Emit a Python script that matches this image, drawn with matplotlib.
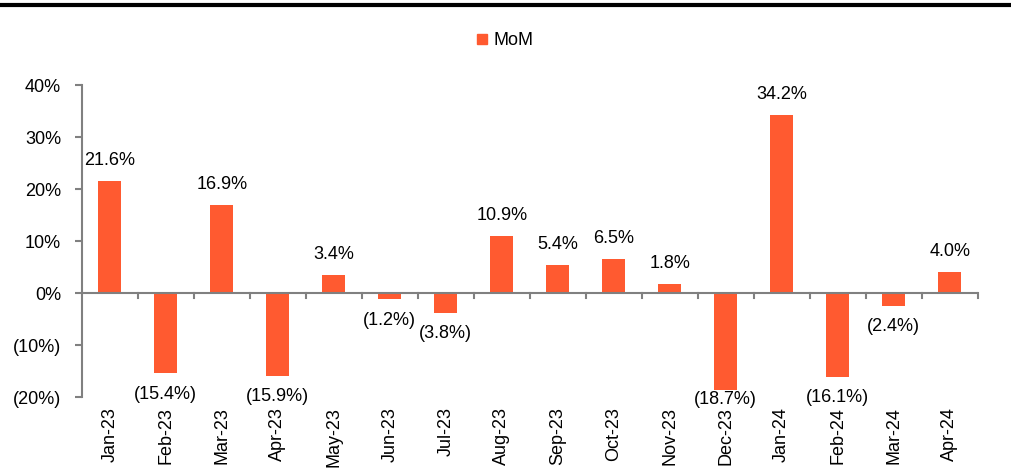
import matplotlib.pyplot as plt
from matplotlib.lines import Line2D
from matplotlib.ticker import FuncFormatter

plt.rcParams['font.family'] = ['Liberation Sans', 'DejaVu Sans']

# data
months = ['Jan-23', 'Feb-23', 'Mar-23', 'Apr-23', 'May-23', 'Jun-23', 'Jul-23', 'Aug-23',
          'Sep-23', 'Oct-23', 'Nov-23', 'Dec-23', 'Jan-24', 'Feb-24', 'Mar-24', 'Apr-24']
mom = [21.6, -15.4, 16.9, -15.9, 3.4, -1.2, -3.8, 10.9,
       5.4, 6.5, 1.8, -18.7, 34.2, -16.1, -2.4, 4.0]

bar_color = '#FF5A30'
axis_color = '#808080'
fs = 13


def pct_fmt(v, pos=None, dec=0):
    s = f"{abs(v):.{dec}f}%"
    return f"({s})" if v < 0 else s


fig = plt.figure(figsize=(10.11, 4.70), dpi=100)
ax = fig.add_axes([0.081, 0.155, 0.886, 0.664])

x = list(range(len(months)))
ax.bar(x, mom, width=0.41, color=bar_color, zorder=2)

for xi, v in zip(x, mom):
    if v >= 0:
        ax.annotate(pct_fmt(v, dec=1), (xi, v), xytext=(0, 11.5), textcoords='offset points',
                    ha='center', va='baseline', fontsize=fs)
    else:
        # below the bar, but kept inside the plot area like Excel does
        ax.text(xi, max(v - 2.4, -18.8), pct_fmt(v, dec=1), ha='center', va='top', fontsize=fs)

ax.set_xlim(-0.5, len(months) - 0.5)
ax.set_ylim(-20, 40)
ax.set_yticks(range(-20, 41, 10))
ax.yaxis.set_major_formatter(FuncFormatter(lambda v, p: pct_fmt(v)))

for s in ['top', 'right', 'bottom']:
    ax.spines[s].set_visible(False)
ax.spines['left'].set_color(axis_color)
ax.spines['left'].set_linewidth(1.5)
ax.axhline(0, color=axis_color, linewidth=1.5, zorder=3)

ax.tick_params(axis='y', colors=axis_color, labelcolor='black', labelsize=fs,
               length=5, width=1.5, direction='out', pad=10)
ax.set_xticks(x)
ax.set_xticklabels(months, rotation=90, fontsize=fs)
ax.tick_params(axis='x', length=0, pad=7)

# separator ticks hanging from the zero line
for b in range(1, len(months) + 1):
    ax.plot([b - 0.5, b - 0.5], [0, -1.0], color=axis_color, linewidth=1.5,
            zorder=3, clip_on=False)

handle = Line2D([], [], marker='s', linestyle='none', color=bar_color, markersize=7.5)
fig.legend([handle], ['MoM'], loc='center', bbox_to_anchor=(0.497, 0.913), frameon=False,
           fontsize=fs, handletextpad=0.0, handlelength=1.2)

fig.add_artist(Line2D([0, 1], [0.989, 0.989], color='black', linewidth=3, transform=fig.transFigure))

fig.savefig('out.png', dpi=100)
